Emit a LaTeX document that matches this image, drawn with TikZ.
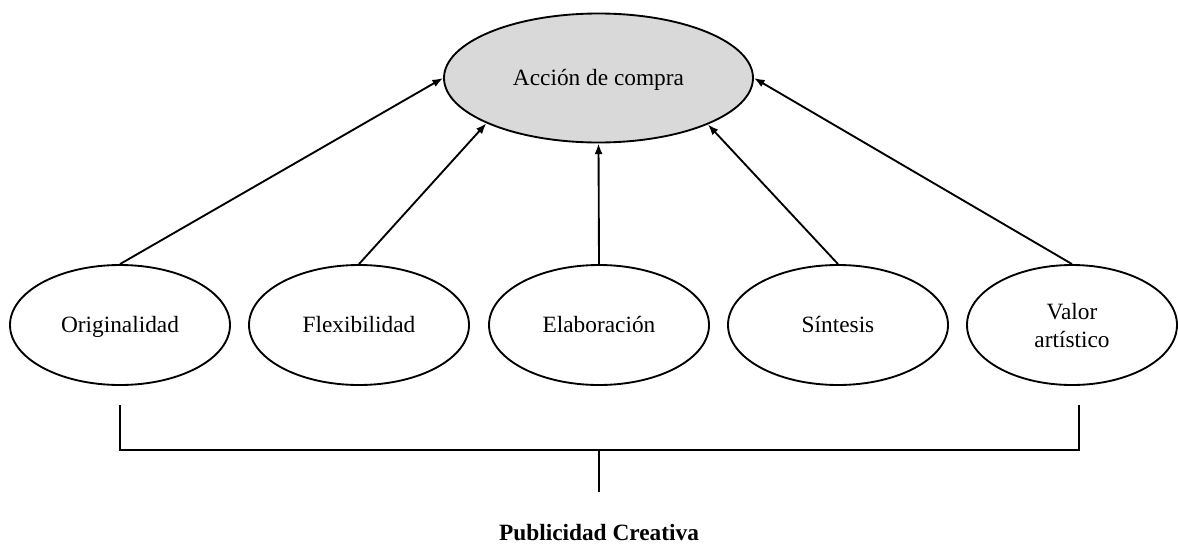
\documentclass[tikz,border=0pt]{standalone}
\usepackage{fontspec}
\setmainfont{Liberation Serif}
\usepackage{tikz}
\usetikzlibrary{arrows.meta,shapes.geometric,positioning}
\definecolor{relleno}{RGB}{217,217,217}

\tikzset{
	elipse/.style={ellipse,draw,line width=1.4pt,inner sep=0pt,align=center,
		font=\fontsize{17.5}{21}\selectfont},
	unalinea/.style={text height=13pt,text depth=1.5pt},
	flecha/.style={-{Latex[length=8pt,width=6pt]},line width=1.4pt},
	linea/.style={line width=1.4pt}
}

\begin{document}
\begin{tikzpicture}[x=0.75pt,y=-0.75pt]
	\useasboundingbox (0,0) rectangle (1178,550);

	\node[elipse,unalinea,fill=relleno,minimum width=231.75pt,minimum height=96.75pt] (compra) at (598.5,78) {Acci\'on de compra};

	\foreach \Pos/\Nom/\Texto in
	{120/orig/Originalidad,359/flex/Flexibilidad,599/elab/Elaboraci\'on,838/sint/S\'intesis}
		\node[elipse,unalinea,minimum width=165pt,minimum height=90pt] (\Nom) at (\Pos,325) {\Texto};
	\node[elipse,minimum width=157.5pt,minimum height=90pt] (valor) at (1072,325)
		{\raisebox{-6.6pt}[0pt][0pt]{\begin{tabular}{@{}c@{}}Valor\\art\'istico\end{tabular}}};

	\draw[flecha] (orig.north) -- (compra.west);
	\draw[flecha] (flex.north) -- (compra.202.5);
	\draw[flecha] (elab.north) -- (compra.south);
	\draw[flecha] (sint.north) -- (compra.337);
	\draw[flecha] (valor.north) -- (compra.east);

	\coordinate (izq) at (120,405);
	\coordinate (der) at (1079,405);
	\coordinate (centro) at (599,450);
	\coordinate (pie) at (599,492);
	\draw[linea] (izq) |- (centro) -| (der);
	\draw[linea] (centro) -- (pie);

	\node[font=\fontsize{17.5}{21}\selectfont\bfseries] (publi) at (599,533) {Publicidad Creativa};

\end{tikzpicture}
\end{document}
